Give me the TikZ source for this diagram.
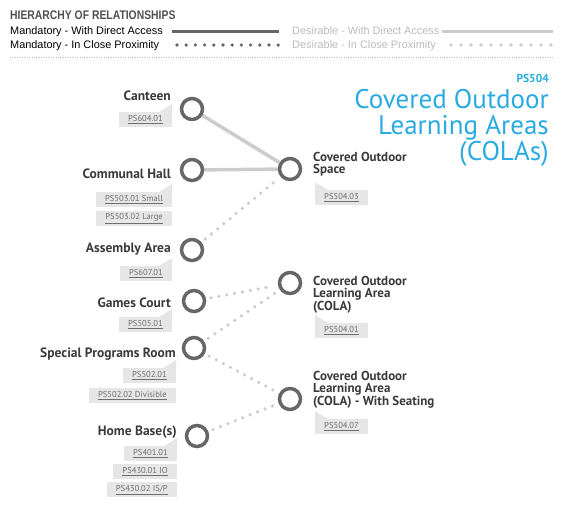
\documentclass[tikz,border=0pt]{standalone}
\usepackage{fontspec}
\setmainfont{PT Sans}
\newfontfamily\arialf{Liberation Sans}
\newfontfamily\arialn[FakeStretch=0.83]{Liberation Sans}
\usetikzlibrary{backgrounds}
\definecolor{dk}{HTML}{666666}
\definecolor{lt}{HTML}{CCCCCC}
\definecolor{txt}{HTML}{3A3A3A}
\definecolor{hdr}{HTML}{505050}
\definecolor{ltxt}{HTML}{BBBBBB}
\definecolor{tagbg}{HTML}{E6E6E6}
\definecolor{tagtx}{HTML}{6E6E6E}
\definecolor{ttlblue}{HTML}{29ABE2}
\newcommand\tailL[1]{\fill[tagbg] (#1.north east) -- ++(0,-8) -- ++(-13,8) -- cycle;}
\newcommand\tailR[1]{\fill[tagbg] (#1.north west) -- ++(0,-8) -- ++(13,8) -- cycle;}
\begin{document}
\begin{tikzpicture}[x=1pt,y=-1pt,
  ring/.style={circle, draw=dk, line width=3.5pt, minimum size=21pt, inner sep=0pt},
  lbl/.style={anchor=base east, inner sep=0pt, text=txt, font=\bfseries\fontsize{13.5}{14}\selectfont},
  rlbl/.style={anchor=north west, inner sep=0pt, text=txt, align=left, font=\bfseries\fontsize{13}{11.8}\selectfont},
  tagL/.style={anchor=north east, fill=tagbg, inner xsep=9pt, inner ysep=0pt, minimum height=15pt, text=tagtx, font=\fontsize{8.6}{9}\selectfont},
  tagR/.style={tagL, anchor=north west},
  solidc/.style={draw=lt, line width=3.5pt},
  dotc/.style={draw=lt, line width=3.6pt, line cap=round, dash pattern=on 0pt off 8pt, shorten <=5pt, shorten >=5pt},
  legtxt/.style={anchor=base west, inner sep=0pt, font=\arialf\fontsize{10.9}{11}\selectfont},
  ttl/.style={anchor=base east, inner sep=0pt, text=ttlblue, font=\fontsize{27}{28}\selectfont}
]
\useasboundingbox (0,0) rectangle (565,520);

% ---------- header / legend ----------
\node[anchor=base west, inner sep=0pt, text=hdr, font=\arialn\bfseries\fontsize{12.5}{13}\selectfont] (hdr) at (10,19) {HIERARCHY OF RELATIONSHIPS};
\node[legtxt, text=black] (m1) at (10,34.5) {Mandatory - With Direct Access};
\node[legtxt, text=black] (m2) at (10,48) {Mandatory - In Close Proximity};
\node[legtxt, text=ltxt] (d1) at (292,34.5) {Desirable - With Direct Access};
\node[legtxt, text=ltxt] (d2) at (292,48) {Desirable - In Close Proximity};
\draw[dk, line width=3pt] (172,31.5) -- (279,31.5);
\draw[dk, line width=3.6pt, line cap=round, dash pattern=on 0pt off 9.2pt] (177,45) -- (279,45);
\draw[lt, line width=3pt] (442,31.5) -- (553,31.5);
\draw[lt, line width=3.6pt, line cap=round, dash pattern=on 0pt off 10pt] (451,45) -- (552,45);
\draw[ltxt, line width=0.8pt, dash pattern=on 0.8pt off 1.6pt] (10,57) -- (553,57);

% ---------- title ----------
\node[anchor=base east, inner sep=0pt, text=ttlblue, font=\bfseries\fontsize{11.5}{12}\selectfont] (ps) at (549,82) {PS504};
\node[ttl] (t1) at (549,108) {Covered Outdoor};
\node[ttl] (t2) at (549,134) {Learning Areas};
\node[ttl] (t3) at (549,160) {(COLAs)};

% ---------- circles ----------
\node[ring] (canteen)  at (192,109) {};
\node[ring] (hall)     at (192,170) {};
\node[ring] (assembly) at (192,250) {};
\node[ring] (games)    at (194,301) {};
\node[ring] (special)  at (194,348) {};
\node[ring] (home)     at (197,436) {};
\node[ring] (cos)      at (290,169) {};
\node[ring] (cola)     at (290,283) {};
\node[ring] (seat)     at (290,399) {};

% ---------- connectors ----------
\begin{scope}[on background layer]
\draw[solidc] (canteen) -- (cos);
\draw[solidc] (hall) -- (cos);
\draw[dotc] (assembly) -- (cos);
\draw[dotc] (games) -- (cola);
\draw[dotc] (special) -- (cola);
\draw[dotc] (special) -- (seat);
\draw[dotc] (home) -- (seat);
\end{scope}

% ---------- left labels ----------
\node[lbl] (lcanteen)  at (171,100) {Canteen};
\node[lbl] (lhall)     at (171,178) {Communal Hall};
\node[lbl] (lassembly) at (171,252) {Assembly Area};
\node[lbl] (lgames)    at (171,307) {Games Court};
\node[lbl] (lspecial)  at (176,357) {Special Programs Room};
\node[lbl] (lhome)     at (177,435) {Home Base(s)};

% ---------- right labels ----------
\node[rlbl] (lcos)  at (313,152) {Covered Outdoor\\Space};
\node[rlbl] (lcola) at (313,276) {Covered Outdoor\\Learning Area\\(COLA)};
\node[rlbl] (lseat) at (313,371) {Covered Outdoor\\Learning Area\\(COLA) - With Seating};

% ---------- tags ----------
\node[tagL] (g1) at (172,112) {\underline{PS604.01}}; \tailL{g1}
\node[tagL] (g2) at (172,192) {\underline{PS503.01 Small}}; \tailL{g2}
\node[tagL] (g3) at (172,211) {\underline{PS503.02 Large}};
\node[tagL] (g4) at (172,266) {\underline{PS607.01}}; \tailL{g4}
\node[tagL] (g5) at (172,317) {\underline{PS505.01}}; \tailL{g5}
\node[tagL] (g6) at (176,368) {\underline{PS502.01}}; \tailL{g6}
\node[tagL] (g7) at (176,388) {\underline{PS502.02 Divisible}};
\node[tagL] (g8) at (177,446) {\underline{PS401.01}}; \tailL{g8}
\node[tagL] (g9) at (177,464) {\underline{PS430.01 IO}};
\node[tagL] (g10) at (177,482) {\underline{PS430.02 IS/P}};
\node[tagR] (r1) at (315,190) {\underline{PS504.03}}; \tailR{r1}
\node[tagR] (r2) at (315,323) {\underline{PS504.01}}; \tailR{r2}
\node[tagR] (r3) at (315,419) {\underline{PS504.07}}; \tailR{r3}
\end{tikzpicture}
\end{document}
